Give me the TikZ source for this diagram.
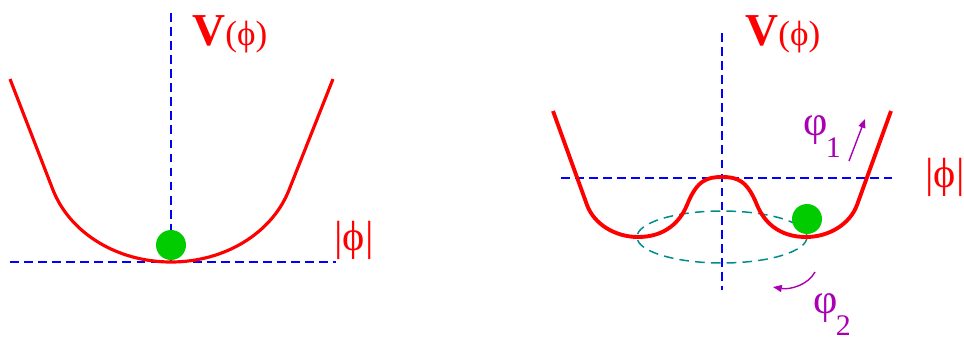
\documentclass[tikz,border=0pt]{standalone}
\usepackage{fontspec}
\setmainfont{Liberation Serif}
\usetikzlibrary{arrows.meta, positioning, calc}
\definecolor{rosso}{RGB}{255,0,0}
\definecolor{blu}{RGB}{0,0,255}
\definecolor{verde}{RGB}{0,204,0}
\definecolor{ottanio}{RGB}{0,140,140}
\definecolor{viola}{RGB}{170,0,180}

\begin{document}
\begin{tikzpicture}[
  x=0.2mm, y=-0.2mm,
  asse/.style={draw=blu, line width=0.6pt, dash pattern=on 5pt off 3pt},
  potenziale/.style={draw=rosso, line width=1.8pt, line join=round},
  pallina/.style={circle, fill=verde, inner sep=0pt, minimum size=6mm},
  orbita/.style={draw=ottanio, line width=0.85pt, dash pattern=on 5.5pt off 3.5pt},
  freccia/.style={draw=viola, line width=0.8pt, -{Triangle[length=5pt,width=4pt]}},
  etichetta/.style={text=rosso, inner sep=0pt},
  campo/.style={text=viola, inner sep=0pt}
]
\useasboundingbox (0,0) rectangle (964,342);

% potenziale con un solo minimo
\draw[asse] (171,13) -- (171,262);
\draw[asse] (10,262) -- (336,262);
\draw[potenziale] (10,79) -- (53,190) .. controls (70,233) and (117,262) .. (171,262)
  .. controls (225,262) and (272,233) .. (289,190) -- (333,79);
\node[pallina] (pallaA) at (171,245) {};
\node[etichetta, anchor=base west] (VA) at (192,45)
  {\fontsize{26}{26}\selectfont\bfseries V\fontsize{20}{20}\selectfont\mdseries(ϕ)};
\node[etichetta] (modA) at (354,240) {\fontsize{24}{24}\selectfont|ϕ|};

% potenziale a cappello messicano
\draw[orbita] (722,237) ellipse [x radius=85, y radius=26];
\draw[asse] (722,33) -- (722,290);
\draw[asse] (561,178) -- (892,178);
\draw[potenziale, line width=2.2pt] (553,111) -- (587,205) .. controls (594,224) and (615,237) .. (638,237)
  .. controls (665,237) and (680,222) .. (687,205) .. controls (697,180) and (707,177) .. (722,177)
  .. controls (737,177) and (747,180) .. (757,205) .. controls (764,222) and (779,237) .. (806,237)
  .. controls (829,237) and (850,224) .. (857,205) -- (891,111);
\node[pallina] (pallaB) at (807,219) {};
\node[etichetta, anchor=base west] (VB) at (745,45)
  {\fontsize{26}{26}\selectfont\bfseries V\fontsize{20}{20}\selectfont\mdseries(ϕ)};
\node[etichetta] (modB) at (945,177) {\fontsize{24}{24}\selectfont|ϕ|};

% direzioni dei campi
\node[campo, anchor=base west] (fi1) at (803,135)
  {\fontsize{24}{24}\selectfont φ\kern-1pt\raisebox{-13pt}{\fontsize{17}{17}\selectfont 1}};
\node[campo, anchor=base west] (fi2) at (813,313)
  {\fontsize{24}{24}\selectfont φ\kern-1pt\raisebox{-13pt}{\fontsize{17}{17}\selectfont 2}};
\coordinate (radiale) at (849,161);
\coordinate (radialeFine) at (865,119);
\draw[freccia] (radiale) -- (radialeFine);
\coordinate (angolare) at (815,272);
\coordinate (angolareFine) at (773,287);
\draw[freccia] (angolare) .. controls (808,285) and (790,290) .. (angolareFine);

\end{tikzpicture}
\end{document}
